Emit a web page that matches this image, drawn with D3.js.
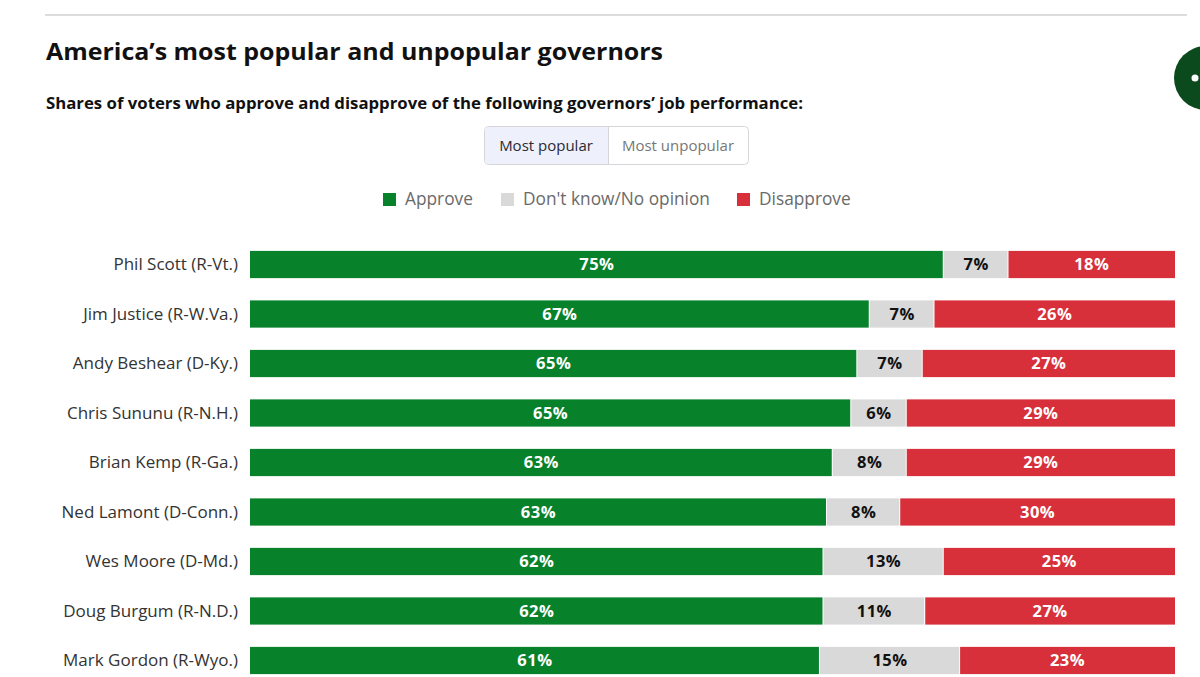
<!DOCTYPE html>
<meta charset="utf-8">
<script src="https://d3js.org/d3.v7.min.js"></script>
<style>
  body { margin: 0; background: #fff; }
  text { font-family: "Open Sans", "Liberation Sans", sans-serif; }
</style>
<div id="chart"></div>
<script>
// data
const governors = ["Phil Scott (R-Vt.)", "Jim Justice (R-W.Va.)", "Andy Beshear (D-Ky.)",
  "Chris Sununu (R-N.H.)", "Brian Kemp (R-Ga.)", "Ned Lamont (D-Conn.)",
  "Wes Moore (D-Md.)", "Doug Burgum (R-N.D.)", "Mark Gordon (R-Wyo.)"];
const approve    = [75, 67, 65, 65, 63, 63, 62, 62, 61];
const dontKnow   = [7, 7, 7, 6, 8, 8, 13, 11, 15];
const disapprove = [18, 26, 27, 29, 29, 30, 25, 27, 23];
const seriesNames = ["Approve", "Don't know/No opinion", "Disapprove"];
const seriesColors = ["#07812a", "#d9d9d9", "#d7303a"];

const width = 1200, height = 677;
const svg = d3.select("#chart").append("svg")
  .attr("width", width).attr("height", height);

// top rule
svg.append("line").attr("x1", 45).attr("x2", 1187).attr("y1", 15).attr("y2", 15)
  .attr("stroke", "#dcdcdc").attr("stroke-width", 2);

// dark green badge at the right edge
svg.append("circle").attr("cx", 1206).attr("cy", 78).attr("r", 32).attr("fill", "#0b4a1d");
svg.append("circle").attr("cx", 1195).attr("cy", 78).attr("r", 3.5).attr("fill", "#fff");

svg.append("text").attr("x", 46).attr("y", 60)
  .attr("font-size", 24).attr("font-weight", 700).attr("fill", "#111")
  .attr("textLength", 617).attr("lengthAdjust", "spacingAndGlyphs")
  .text("America\u2019s most popular and unpopular governors");

svg.append("text").attr("x", 46).attr("y", 109)
  .attr("font-size", 16).attr("font-weight", 700).attr("fill", "#111")
  .attr("textLength", 757).attr("lengthAdjust", "spacingAndGlyphs")
  .text("Shares of voters who approve and disapprove of the following governors\u2019 job performance:");

// toggle buttons
const tog = svg.append("g");
tog.append("rect").attr("x", 484.5).attr("y", 126.5).attr("width", 264).attr("height", 38)
  .attr("rx", 4).attr("fill", "#fff").attr("stroke", "#d6d6da");
tog.append("path")
  .attr("d", "M608,127 H488.5 Q485,127 485,130.5 V160.5 Q485,164 488.5,164 H608 Z")
  .attr("fill", "#eef0fb");
tog.append("line").attr("x1", 608.5).attr("x2", 608.5).attr("y1", 127).attr("y2", 164)
  .attr("stroke", "#d6d6da");
tog.append("text").attr("x", 546).attr("y", 151).attr("text-anchor", "middle")
  .attr("font-size", 15).attr("fill", "#2a2a35").text("Most popular");
tog.append("text").attr("x", 678).attr("y", 151).attr("text-anchor", "middle")
  .attr("font-size", 15).attr("fill", "#777").text("Most unpopular");

// legend
const legendX = [383, 501, 737];
const leg = svg.append("g").selectAll("g").data(seriesNames).join("g")
  .attr("transform", (d, i) => `translate(${legendX[i]},193)`);
leg.append("rect").attr("width", 13).attr("height", 13).attr("fill", (d, i) => seriesColors[i]);
leg.append("text").attr("x", 22).attr("y", 12).attr("font-size", 17.3).attr("fill", "#6a6a6a")
  .text(d => d);

// scales
const y = d3.scaleBand().domain(governors).range([241, 684]).paddingInner(0.45).paddingOuter(0.2);
const x = d3.scaleLinear().domain([0, 1]).range([250, 1175]);

const rows = governors.map((g, i) => {
  const vals = [approve[i], dontKnow[i], disapprove[i]];
  const total = d3.sum(vals);
  let acc = 0;
  return { name: g, segs: vals.map((v, k) => {
    const s = { v, k, x0: acc / total, x1: (acc + v) / total };
    acc += v;
    return s;
  }) };
});

const row = svg.append("g").selectAll("g").data(rows).join("g")
  .attr("transform", d => `translate(0,${y(d.name)})`);

row.append("text").attr("x", 238).attr("y", y.bandwidth() / 2).attr("dy", "0.35em")
  .attr("text-anchor", "end").attr("font-size", 17).attr("fill", "#333")
  .text(d => d.name);

const seg = row.selectAll("g.seg").data(d => d.segs).join("g").attr("class", "seg");
seg.append("rect")
  .attr("x", d => x(d.x0)).attr("width", d => x(d.x1) - x(d.x0) - (d.k < 2 ? 1 : 0))
  .attr("height", y.bandwidth()).attr("fill", d => seriesColors[d.k]);
seg.append("text")
  .attr("x", d => (x(d.x0) + x(d.x1)) / 2).attr("y", y.bandwidth() / 2).attr("dy", "0.36em")
  .attr("text-anchor", "middle").attr("font-size", 16.5).attr("font-weight", 700)
  .attr("letter-spacing", 0.5)
  .attr("fill", d => d.k === 1 ? "#111" : "#fff")
  .text(d => d.v + "%");
</script>
